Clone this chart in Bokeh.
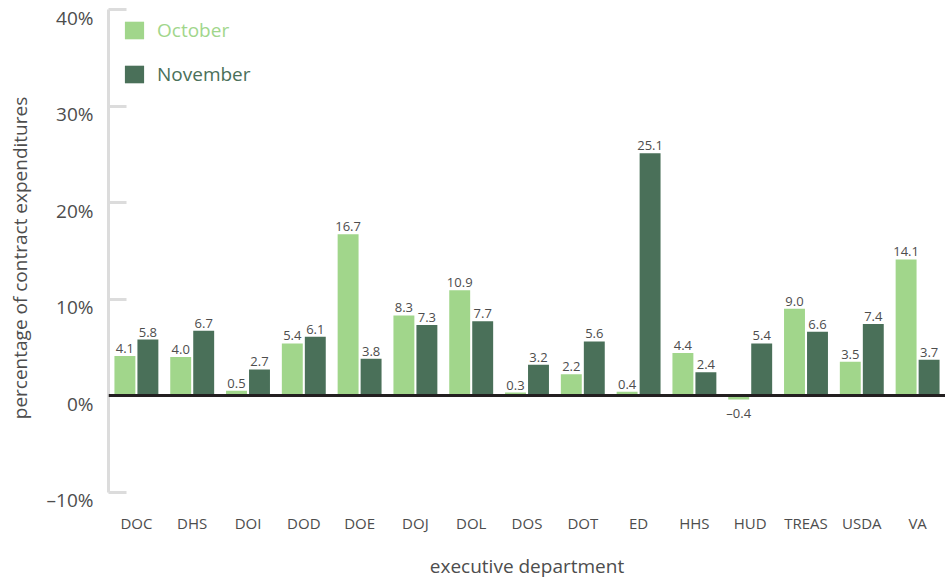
from bokeh.plotting import figure
from bokeh.models import (ColumnDataSource, Span, Legend, LegendItem, FixedTicker,
                          LinearAxis, Range1d, CustomLabelingPolicy)
from bokeh.transform import dodge
from bokeh.core.properties import value
from bokeh.embed import file_html
from bokeh.resources import INLINE

departments = ["DOC", "DHS", "DOI", "DOD", "DOE", "DOJ", "DOL", "DOS", "DOT",
               "ED", "HHS", "HUD", "TREAS", "USDA", "VA"]
october = [4.1, 4.0, 0.5, 5.4, 16.7, 8.3, 10.9, 0.3, 2.2, 0.4, 4.4, -0.4, 9.0, 3.5, 14.1]
november = [5.8, 6.7, 2.7, 6.1, 3.8, 7.3, 7.7, 3.2, 5.6, 25.1, 2.4, 5.4, 6.6, 7.4, 3.7]
y_ticks = [-10, 0, 10, 20, 30, 40]
y_tick_labels = ["–10%", "0%", "10%", "20%", "30%", "40%"]

FONT = "Open Sans"
TEXT = "#4d4d4d"
C_OCT = "#a1d68b"
C_NOV = "#4a7059"
Y_MIN, Y_MAX = -10, 40
PAD = 1.5            # empty space below the axis end
LABEL_SHIFT = 0.83   # tick labels sit slightly below their tick marks


def fmt(v):
    s = f"{v:.1f}"
    return s.replace("-", "–")


def make_source(vals):
    return ColumnDataSource(dict(
        dept=departments,
        val=vals,
        label=[fmt(v) for v in vals],
        base=["bottom" if v >= 0 else "top" for v in vals],
        yoff=[-3 if v >= 0 else 5 for v in vals],
    ))


src_oct = make_source(october)
src_nov = make_source(november)

p = figure(x_range=departments, y_range=(Y_MIN - PAD, Y_MAX), width=945, height=581,
           output_backend="svg", toolbar_location=None,
           min_border_left=108, min_border_right=0, min_border_top=9,
           min_border_bottom=75)
p.outline_line_color = None
p.xgrid.grid_line_color = None
p.ygrid.grid_line_color = None
p.background_fill_color = "white"
p.extra_y_ranges = {"lab": Range1d(Y_MIN - PAD + LABEL_SHIFT, Y_MAX + LABEL_SHIFT)}

off = 0.206
w = 0.375
r_oct = p.vbar(x=dodge("dept", -off, range=p.x_range), top="val", width=w,
               source=src_oct, fill_color=C_OCT, line_color=None)
r_nov = p.vbar(x=dodge("dept", off, range=p.x_range), top="val", width=w,
               source=src_nov, fill_color=C_NOV, line_color=None)

for src, o in ((src_oct, -off), (src_nov, off)):
    p.text(x=dodge("dept", o, range=p.x_range), y="val", text="label", source=src,
           text_align="center", text_baseline="base", y_offset="yoff",
           text_font=value(FONT), text_font_size="13px", text_color=TEXT)

p.add_layout(Span(location=0, dimension="width", line_color="#231f20", line_width=3))

# y axis: line and ticks only
ya = p.yaxis[0]
ya.ticker = FixedTicker(ticks=y_ticks)
ya.bounds = (Y_MIN, Y_MAX)
ya.axis_line_color = "#dcdcdc"
ya.axis_line_width = 3
ya.major_tick_line_color = "#dcdcdc"
ya.major_tick_line_width = 3
ya.major_tick_in = 18
ya.major_tick_out = 0
ya.minor_tick_line_color = None
ya.minor_tick_in = 0
ya.minor_tick_out = 0
ya.major_label_standoff = 0
ya.major_label_text_font_size = "1px"
ya.major_label_policy = CustomLabelingPolicy(
    code="for (const i of indices) { indices.unset(i) } return indices")

# y axis: labels and title
yl = LinearAxis(y_range_name="lab", ticker=FixedTicker(ticks=y_ticks))
yl.major_label_overrides = {t: l for t, l in zip(y_ticks, y_tick_labels)}
yl.axis_line_color = None
yl.major_tick_line_color = None
yl.minor_tick_line_color = None
yl.major_tick_in = 0
yl.major_tick_out = 0
yl.minor_tick_in = 0
yl.minor_tick_out = 0
yl.major_label_standoff = 10
yl.major_label_text_font = FONT
yl.major_label_text_font_size = "19px"
yl.major_label_text_color = TEXT
yl.axis_label = "percentage of contract expenditures"
yl.axis_label_text_font = FONT
yl.axis_label_text_font_size = "19px"
yl.axis_label_text_font_style = "normal"
yl.axis_label_text_color = TEXT
yl.axis_label_standoff = 11
p.add_layout(yl, "left")

# x axis
xa = p.xaxis[0]
xa.axis_line_color = None
xa.major_tick_line_color = None
xa.minor_tick_line_color = None
xa.major_tick_in = 0
xa.major_tick_out = 0
xa.minor_tick_in = 0
xa.minor_tick_out = 0
xa.major_label_standoff = 6
xa.major_label_text_font = FONT
xa.major_label_text_font_size = "15px"
xa.major_label_text_color = TEXT
xa.axis_label = "executive department"
xa.axis_label_text_font = FONT
xa.axis_label_text_font_size = "19px"
xa.axis_label_text_font_style = "normal"
xa.axis_label_text_color = TEXT
xa.axis_label_standoff = 17

# legends (separate so each label can take its series colour)
for name, rend, col, ypos in (("October", r_oct, C_OCT, 463), ("November", r_nov, C_NOV, 419)):
    lg = Legend(items=[LegendItem(label=name, renderers=[rend])],
                location=(14, ypos), orientation="vertical",
                padding=0, margin=0, spacing=0,
                glyph_width=24, glyph_height=22, label_height=22,
                label_standoff=11, label_text_font=FONT,
                label_text_font_size="19px", label_text_color=col,
                border_line_color=None, background_fill_alpha=0)
    p.add_layout(lg, "center")

open("out.html", "w").write(file_html(p, INLINE))
